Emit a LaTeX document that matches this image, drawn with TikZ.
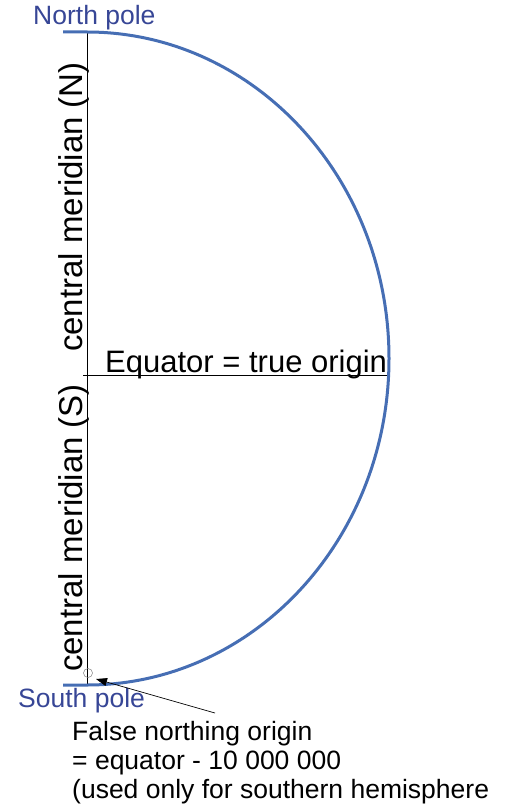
\documentclass[tikz,border=0pt]{standalone}
\usepackage{fontspec}
\setmainfont{Liberation Sans}
\usetikzlibrary{arrows.meta}
\definecolor{arcblue}{RGB}{70,110,180}
\definecolor{labblue}{RGB}{55,70,150}
\begin{document}
\begin{tikzpicture}[x=1pt,y=-1pt,
  lab/.style={inner sep=0pt,anchor=base west,font=\fontsize{26.5}{30}\selectfont},
  pole/.style={inner sep=0pt,anchor=base west,text=labblue,font=\fontsize{26.5}{30}\selectfont},
  merid/.style={inner sep=0pt,rotate=90,anchor=base,font=\fontsize{33}{36}\selectfont}]
\useasboundingbox (0,0) rectangle (510,805);
\coordinate (ntop) at (87,32);
\coordinate (sbot) at (87,685);
\coordinate (eqL) at (83,375);
\coordinate (eqR) at (390,375);
\draw[line width=0.9pt] (ntop) -- (sbot);
\draw[line width=0.9pt] (eqL) -- (eqR);
\draw[arcblue,line width=3pt] (63,32) -- (ntop) arc[start angle=90,end angle=-90,x radius=302pt,y radius=326.5pt] -- (63,685);
\node[pole] (np) at (33,25) {North pole};
\node[pole] (sp) at (18,707) {South pole};
\node[lab,font=\fontsize{31}{36}\selectfont] (eq) at (105,372) {Equator = true origin};
\node[merid] (cmn) at (82,207) {central meridian (N)};
\node[merid] (cms) at (82,528) {central meridian (S)};
\node[circle,draw=gray,line width=0.5pt,minimum size=9pt,inner sep=0pt] (fo) at (88,673) {};
\coordinate (tail) at (215,713);
\draw[line width=0.7pt,-{Triangle[length=11pt,width=8pt]}] (tail) -- (96,679);
\node[lab] (t1) at (72,740) {False northing origin};
\node[lab] (t2) at (72,769) {= equator - 10 000 000};
\node[lab] (t3) at (72,798) {(used only for southern hemisphere};
\end{tikzpicture}
\end{document}
